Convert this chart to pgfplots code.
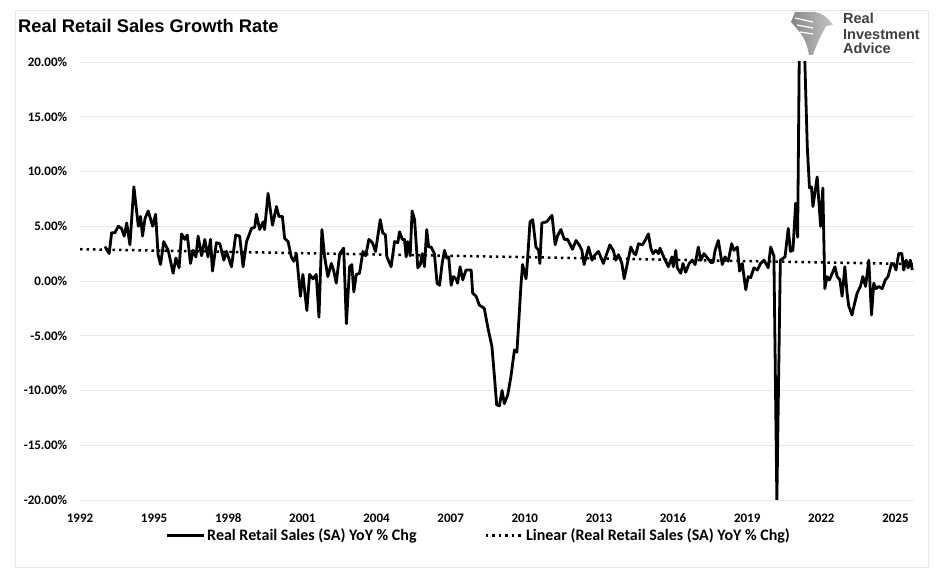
\documentclass[border=0pt]{standalone}
\usepackage{fontspec}
\setmainfont{Carlito}
\newfontfamily\arialfont{Liberation Sans}
\usepackage{pgfplots}
\usepackage{pgfplotstable}
\pgfplotsset{compat=1.18}

\definecolor{gridgray}{HTML}{E6E6E6}
\definecolor{logogray}{HTML}{404040}

\pgfplotstableread{
year chg
1993.01 3.15
1993.18 2.5
1993.28 4.4
1993.41 4.4
1993.55 5.0
1993.68 4.8
1993.79 4.1
1993.89 5.3
1994.02 3.3
1994.18 8.6
1994.36 5.0
1994.45 5.9
1994.53 4.1
1994.63 5.7
1994.76 6.4
1994.94 5.0
1995.06 6.1
1995.16 2.4
1995.26 1.5
1995.39 3.6
1995.57 2.8
1995.77 0.7
1995.88 2.1
1996.01 1.2
1996.11 4.3
1996.24 3.8
1996.34 4.2
1996.47 1.6
1996.58 2.8
1996.69 2.2
1996.78 4.1
1996.92 2.3
1997.05 3.8
1997.18 2.2
1997.28 3.8
1997.36 0.9
1997.52 3.5
1997.66 3.4
1997.82 1.9
1997.93 2.7
1998.13 1.3
1998.30 4.2
1998.46 4.1
1998.60 1.3
1998.74 3.6
1998.94 4.8
1999.07 4.9
1999.14 6.1
1999.27 4.7
1999.41 5.4
1999.47 4.7
1999.61 8.0
1999.79 5.1
1999.95 6.8
2000.05 5.9
2000.19 5.9
2000.28 3.9
2000.42 3.6
2000.55 2.2
2000.65 1.8
2000.76 2.5
2000.92 -1.4
2001.02 0.6
2001.18 -2.7
2001.29 0.6
2001.43 0.2
2001.56 0.6
2001.67 -3.3
2001.79 4.7
2001.90 2.2
2002.03 0.4
2002.17 1.6
2002.26 1.0
2002.37 -0.2
2002.51 2.5
2002.67 3.0
2002.78 -3.9
2002.91 1.3
2003.00 1.5
2003.08 -1.0
2003.18 0.6
2003.31 0.7
2003.45 2.7
2003.56 2.3
2003.69 3.8
2003.83 3.5
2003.96 2.7
2004.15 5.6
2004.25 4.4
2004.36 4.2
2004.42 2.2
2004.59 1.3
2004.73 3.6
2004.86 3.5
2004.93 4.5
2005.04 3.8
2005.13 3.8
2005.20 2.2
2005.26 3.6
2005.36 2.3
2005.44 6.4
2005.54 5.6
2005.67 1.2
2005.77 1.5
2005.85 2.5
2005.94 1.3
2006.03 4.7
2006.11 3.1
2006.21 3.1
2006.34 2.5
2006.45 -0.2
2006.55 -0.4
2006.65 1.5
2006.75 2.8
2006.84 2.1
2006.92 2.2
2007.02 -0.4
2007.11 0.4
2007.22 0.2
2007.28 -0.2
2007.38 1.3
2007.49 0.1
2007.62 1.0
2007.83 1.0
2007.89 -1.1
2008.03 -1.4
2008.16 -2.2
2008.36 -2.5
2008.50 -4.2
2008.67 -6.0
2008.77 -8.7
2008.86 -11.3
2008.97 -11.4
2009.08 -10.0
2009.17 -11.2
2009.31 -10.4
2009.44 -8.7
2009.58 -6.3
2009.68 -6.5
2009.85 -0.2
2009.91 1.5
2010.05 0.2
2010.11 1.9
2010.21 5.4
2010.32 5.6
2010.45 3.1
2010.56 2.8
2010.61 1.6
2010.69 5.3
2010.88 5.4
2010.96 5.6
2011.10 6.0
2011.23 3.3
2011.32 4.1
2011.46 4.7
2011.60 3.8
2011.73 3.8
2011.93 2.9
2012.07 3.7
2012.20 3.3
2012.31 2.8
2012.40 1.5
2012.58 3.1
2012.72 1.9
2012.81 2.3
2012.98 2.7
2013.18 1.6
2013.44 3.3
2013.58 2.8
2013.68 1.9
2013.79 2.4
2013.93 1.6
2014.02 0.2
2014.15 1.6
2014.29 3.1
2014.42 2.5
2014.49 2.4
2014.60 3.4
2014.76 3.3
2014.87 3.7
2015.00 4.3
2015.10 3.0
2015.19 2.5
2015.30 2.8
2015.41 2.5
2015.47 3.0
2015.64 2.1
2015.81 1.3
2015.95 2.2
2016.01 1.3
2016.11 2.8
2016.17 1.2
2016.31 0.7
2016.40 1.6
2016.51 0.8
2016.65 1.6
2016.78 1.9
2016.89 1.5
2017.02 3.1
2017.12 1.9
2017.25 2.5
2017.39 2.1
2017.52 1.7
2017.62 1.7
2017.70 2.8
2017.83 3.7
2017.99 1.5
2018.10 2.2
2018.23 1.8
2018.37 3.4
2018.46 2.8
2018.60 3.1
2018.69 0.9
2018.80 1.6
2018.94 -0.8
2019.04 0.4
2019.14 0.3
2019.27 1.2
2019.41 1.0
2019.54 1.6
2019.68 1.9
2019.85 1.2
2019.95 3.1
2020.08 2.3
2020.20 -20.0
2020.34 1.9
2020.53 2.2
2020.66 4.8
2020.75 2.7
2020.85 2.8
2020.96 7.1
2021.04 4.0
2021.12 24.0
2021.22 28.0
2021.32 21.0
2021.43 12.3
2021.52 8.5
2021.60 8.6
2021.66 6.8
2021.83 9.5
2021.97 5.0
2022.06 8.5
2022.14 -0.7
2022.23 0.4
2022.33 0.1
2022.44 0.7
2022.55 1.3
2022.64 0.4
2022.75 0.1
2022.84 -1.4
2022.95 1.3
2023.04 -1.1
2023.11 -2.3
2023.24 -3.1
2023.35 -2.0
2023.45 -1.1
2023.58 -0.5
2023.68 0.4
2023.79 -0.5
2023.92 1.9
2024.03 -3.1
2024.12 -0.2
2024.21 -0.7
2024.32 -0.5
2024.46 -0.7
2024.59 0.1
2024.70 0.4
2024.84 1.6
2024.94 1.5
2025.02 1.0
2025.13 2.5
2025.26 2.5
2025.33 1.0
2025.43 1.9
2025.51 1.2
2025.60 1.9
2025.68 1.0
}\sales

\begin{document}
\begin{tikzpicture}
\begin{scope}[x=1bp,y=1bp]
\path[use as bounding box] (0,0) rectangle (936,575);
\draw[gridgray, line width=0.8bp] (15,8) rectangle (928,565);

% title
\node[anchor=base west, inner sep=0pt] at (18,542.7)
  {\arialfont\bfseries\fontsize{18.3bp}{20bp}\selectfont Real Retail Sales Growth Rate};

% logo
\shade[left color=gray!95, right color=gray!45] (795,563) -- (815,563) .. controls (824,561) and (829,556) .. (833,550)
  -- (826,549) .. controls (823,543) and (818,535) .. (813,520) -- (809,520)
  .. controls (807,533) and (802,541) .. (797,546) -- (791,553) -- cycle;
\draw[white, line width=1.2bp] (795,557) -- (813,553) (797,550) -- (813,547) (800,543) -- (813,541);
\node[anchor=base west, inner sep=0pt, text=logogray] at (843,551)
  {\arialfont\bfseries\fontsize{14.5bp}{16bp}\selectfont Real};
\node[anchor=base west, inner sep=0pt, text=logogray] at (843,535.7)
  {\arialfont\bfseries\fontsize{14.5bp}{16bp}\selectfont Investment};
\node[anchor=base west, inner sep=0pt, text=logogray] at (843,521.7)
  {\arialfont\bfseries\fontsize{14.5bp}{16bp}\selectfont Advice};
\end{scope}

\begin{axis}[
  at={(80bp,75bp)}, anchor=south west,
  scale only axis, width=834bp, height=438bp,
  xmin=1992, xmax=2025.75, ymin=-20, ymax=20,
  axis line style={draw=none},
  major tick length=0pt,
  ymajorgrids, grid style={gridgray, line width=0.8bp},
  xtick={1992,1995,...,2025},
  xticklabels={1992,1995,1998,2001,2004,2007,2010,2013,2016,2019,2022,2025},
  ytick={-20,-15,...,20},
  yticklabels={-20.00\%,-15.00\%,-10.00\%,-5.00\%,0.00\%,5.00\%,10.00\%,15.00\%,20.00\%},
  ticklabel style={font=\fontsize{13bp}{15bp}\selectfont\bfseries, inner sep=0pt},
  xticklabel style={anchor=base, yshift=-22.5bp},
  yticklabel style={anchor=east, xshift=-12.7bp},
  legend columns=2,
  legend style={draw=none, fill=none, at={(0.478,-0.0815)}, anchor=center,
    font=\fontsize{16bp}{18bp}\selectfont\bfseries,
    /tikz/every even column/.append style={column sep=66bp},
    nodes={inner sep=2bp}},
  legend image code/.code={\draw[#1] (0bp,0bp) -- (37bp,0bp);},
]
\addplot[black, line width=2.8bp, line join=round] table[x=year, y=chg] {\sales};
\addlegendentry{Real Retail Sales (SA) YoY \% Chg}
\addplot[black, line width=2.5bp, dash pattern=on 2.5bp off 4bp] coordinates {(1992,2.9) (2025.7,1.55)};
\addlegendentry{Linear (Real Retail Sales (SA) YoY \% Chg)}
\end{axis}
\end{tikzpicture}
\end{document}
